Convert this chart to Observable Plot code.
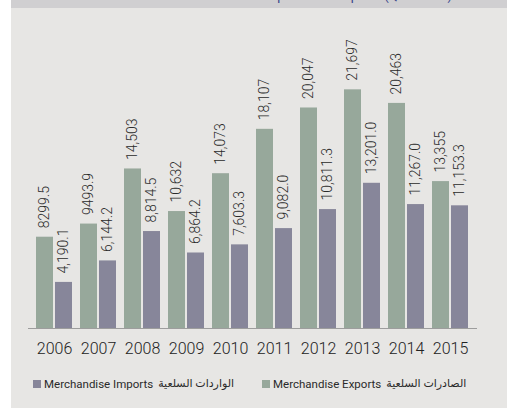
<!DOCTYPE html>
<html>
<head>
<meta charset="utf-8">
<script src="https://cdn.jsdelivr.net/npm/d3@7"></script>
<script src="https://cdn.jsdelivr.net/npm/@observablehq/plot@0.6"></script>
<style>
  html, body { margin: 0; padding: 0; background: #ffffff; width: 507px; height: 408px; overflow: hidden; }
  #panel { position: absolute; left: 11px; top: 0; width: 496px; height: 408px; background: #e7e6e4; overflow: hidden; }
  #band { position: absolute; left: 0; top: 0; width: 496px; height: 8px; background: #d0cfd1; overflow: hidden; }
  #title { position: absolute; right: 55px; top: -11px; font: 13px Roboto, sans-serif; line-height: 13px; color: #34448a; white-space: nowrap; }
  #chart { position: absolute; left: 0; top: 0; }
  #legend { position: absolute; left: 33px; top: 377px; width: max-content; display: flex; align-items: center; font: 11.5px Roboto, "DejaVu Sans", sans-serif; color: #2a2a2a; line-height: 14px; white-space: nowrap; }
  .item { display: flex; align-items: center; margin-right: 28px; flex-shrink: 0; }
  .sw { width: 8px; height: 8px; margin-right: 3px; flex-shrink: 0; }
  .en { margin-right: 5px; }
  .ar { font-size: 11px; }
</style>
</head>
<body>
<div id="panel"><div id="band"><span id="title">Merchandise Exports and Imports (QR Million)</span></div></div>
<div id="chart"></div>
<div id="legend"></div>
<script>
const years = ["2006","2007","2008","2009","2010","2011","2012","2013","2014","2015"];
const exportsValues = [8299.5, 9493.9, 14503, 10632, 14073, 18107, 20047, 21697, 20463, 13355];
const importsValues = [4190.1, 6144.2, 8814.5, 6864.2, 7603.3, 9082.0, 10811.3, 13201.0, 11267.0, 11153.3];
const exportLabels = ["8299.5","9493.9","14,503","10,632","14,073","18,107","20,047","21,697","20,463","13,355"];
const importLabels = ["4,190.1","6,144.2","8,814.5","6,864.2","7,603.3","9,082.0","10,811.3","13,201.0","11,267.0","11,153.3"];
const seriesEn = ["Merchandise Imports", "Merchandise Exports"];
const seriesAr = ["الواردات السلعية", "الصادرات السلعية"];
const seriesColors = ["#87869a", "#97a89b"];

const exportsData = years.map((y, i) => ({year: y, value: exportsValues[i], label: exportLabels[i]}));
const importsData = years.map((y, i) => ({year: y, value: importsValues[i], label: importLabels[i]}));

const chart = Plot.plot({
  width: 507,
  height: 365,
  marginLeft: 28,
  marginRight: 30,
  marginTop: 64,
  marginBottom: 37,
  style: {background: "transparent", fontFamily: "Roboto, sans-serif", fontSize: "16px", color: "#222"},
  x: {domain: years, paddingInner: 0.178, paddingOuter: 0.09, tickSize: 0, tickPadding: 14, label: null},
  y: {domain: [0, 24000], axis: null},
  marks: [
    Plot.barY(exportsData, {x: "year", y: "value", fill: seriesColors[1], insetRight: 19}),
    Plot.barY(importsData, {x: "year", y: "value", fill: seriesColors[0], insetLeft: 19}),
    Plot.ruleY([0], {stroke: "#9d9d9d", strokeWidth: 1}),
    Plot.text(exportsData, {x: "year", y: "value", text: "label", rotate: -90, textAnchor: "start", lineAnchor: "middle", dx: -9.5, dy: -9, fontSize: 14, fontWeight: 300, fill: "#2a2a2a"}),
    Plot.text(importsData, {x: "year", y: "value", text: "label", rotate: -90, textAnchor: "start", lineAnchor: "middle", dx: 9.5, dy: -9, fontSize: 14, fontWeight: 300, fill: "#2a2a2a"})
  ]
});
chart.querySelectorAll("text").forEach(t => { if (!t.getAttribute("font-weight")) t.style.fontWeight = "300"; });
document.getElementById("chart").appendChild(chart);

const legend = document.getElementById("legend");
seriesEn.forEach((en, i) => {
  const item = document.createElement("div");
  item.className = "item";
  const sw = document.createElement("span");
  sw.className = "sw";
  sw.style.background = seriesColors[i];
  const t1 = document.createElement("span");
  t1.className = "en";
  t1.textContent = en;
  const t2 = document.createElement("bdi");
  t2.className = "ar";
  t2.dir = "rtl";
  t2.textContent = seriesAr[i];
  item.append(sw, t1, t2);
  legend.appendChild(item);
});
</script>
</body>
</html>
